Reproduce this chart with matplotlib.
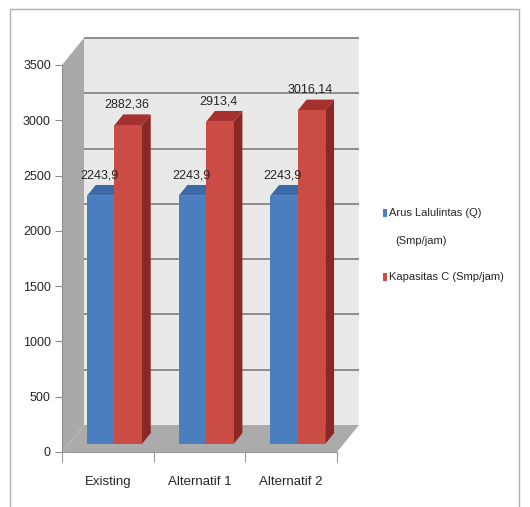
import matplotlib
matplotlib.use('Agg')
import matplotlib.pyplot as plt
from matplotlib.patches import Polygon, Rectangle
from matplotlib.ticker import FixedLocator, NullFormatter

# ---------------- data ----------------
categories = ['Existing', 'Alternatif 1', 'Alternatif 2']
arus = [2243.9, 2243.9, 2243.9]
kapasitas = [2882.36, 2913.4, 3016.14]
arus_labels = ['2243,9', '2243,9', '2243,9']
kapasitas_labels = ['2882,36', '2913,4', '3016,14']
series_names = ['Arus Lalulintas (Q)', '(Smp/jam)', 'Kapasitas C (Smp/jam)']
yticks = [0, 500, 1000, 1500, 2000, 2500, 3000, 3500]

# ---------------- style ----------------
plt.rcParams['font.family'] = ['Liberation Sans', 'DejaVu Sans']
TXT = '#262626'
front_cols = ['#4a7ebf', '#cb4b45']
top_cols = ['#3c6aa6', '#a5312e']
side_cols = ['#2f5687', '#8a2826']

W, H = 530, 507
fig = plt.figure(figsize=(W / 100, H / 100), dpi=100)
fig.patch.set_facecolor('white')

# chart frame
fig.add_artist(Rectangle((10 / W, -0.01), 509 / W, 1 - 9 / H + 0.01,
                         transform=fig.transFigure, fill=False,
                         edgecolor='#b0b0b0', linewidth=1.0))

ax_l, ax_b, ax_w, ax_h = 62, 452, 275, 387  # pixels
ax = fig.add_axes([ax_l / W, 1 - ax_b / H, ax_w / W, ax_h / H])
n = len(categories)
ymax = yticks[-1]
ax.set_xlim(0, n)
ax.set_ylim(0, ymax)
ax.patch.set_visible(False)

# 3D depth offset (full depth) in data units
DEPTH_PX = (22, 27)
DX = n * DEPTH_PX[0] / ax_w
DY = ymax * DEPTH_PX[1] / ax_h


def P(x, y, d):
    return (x + d * DX, y + d * DY)


def poly(pts, fc, z):
    ax.add_patch(Polygon(pts, closed=True, facecolor=fc, edgecolor='none',
                         linewidth=0, zorder=z, clip_on=False))


# back wall
poly([P(0, 0, 1), P(n, 0, 1), P(n, ymax, 1), P(0, ymax, 1)], '#e9e9e9', 1)
# gridlines on back wall
for v in yticks[1:]:
    a, b = P(0, v, 1), P(n, v, 1)
    ax.plot([a[0], b[0]], [a[1], b[1]], color='#868686', lw=1.3,
            zorder=1.5, clip_on=False, solid_capstyle='butt')
# side wall
poly([P(0, 0, 0), P(0, ymax, 0), P(0, ymax, 1), P(0, 0, 1)], '#a9a9a9', 2)
# floor
poly([P(0, 0, 0), P(n, 0, 0), P(n, 0, 1), P(0, 0, 1)], '#ababab', 2)

# bars
bw = 0.3
d0, d1 = 0.3, 0.7
series = [arus, kapasitas]
labels = [arus_labels, kapasitas_labels]
z = 3
for i in range(n):
    c = i + 0.5
    for s, vals in enumerate(series):
        v = vals[i]
        x0 = c - bw + s * bw
        x1 = x0 + bw
        poly([P(x1, 0, d0), P(x1, v, d0), P(x1, v, d1), P(x1, 0, d1)],
             side_cols[s], z)
        poly([P(x0, v, d0), P(x1, v, d0), P(x1, v, d1), P(x0, v, d1)],
             top_cols[s], z + 0.1)
        poly([P(x0, 0, d0), P(x1, 0, d0), P(x1, v, d0), P(x0, v, d0)],
             front_cols[s], z + 0.2)
        z += 0.5
        ly = P(0, v, d1)[1]
        lx = P((x0 + x1) / 2, v, d0)[0]
        ax.annotate(labels[s][i], (lx, ly), xytext=(-1, 7),
                    textcoords='offset points', ha='center', va='center',
                    fontsize=9, color=TXT, zorder=20, annotation_clip=False)

# axes styling
for sp in ['top', 'right']:
    ax.spines[sp].set_visible(False)
ax.spines['left'].set_color('#8c8c8c')
ax.spines['bottom'].set_color('#9a9a9a')
ax.spines['left'].set_zorder(2.5)
ax.set_yticks(yticks)
ax.set_yticklabels([str(t) for t in yticks], fontsize=9, color=TXT)
ax.tick_params(axis='y', length=5, color='#8c8c8c', pad=3)

ax.xaxis.set_major_locator(FixedLocator(list(range(n + 1))))
ax.xaxis.set_major_formatter(NullFormatter())
ax.xaxis.set_minor_locator(FixedLocator([i + 0.5 for i in range(n)]))
ax.set_xticklabels(categories, minor=True, fontsize=9.5, color=TXT)
ax.tick_params(axis='x', which='major', length=7, color='#9a9a9a')
ax.tick_params(axis='x', which='minor', length=0, pad=17)

# legend (Excel-like, right side)
leg_x = 383
for s, py in enumerate([213, 277]):
    fig.add_artist(Rectangle((leg_x / W, 1 - (py + 4) / H), 4 / W, 8 / H,
                             transform=fig.transFigure,
                             facecolor=front_cols[s], edgecolor='none'))
fig.text((leg_x + 6) / W, 1 - 213 / H, series_names[0], ha='left',
         va='center', fontsize=8, color=TXT)
fig.text((leg_x + 12) / W, 1 - 241 / H, series_names[1], ha='left',
         va='center', fontsize=8, color=TXT)
fig.text((leg_x + 6) / W, 1 - 277 / H, series_names[2], ha='left',
         va='center', fontsize=8, color=TXT)

fig.savefig('out.png', dpi=100, facecolor='white')
